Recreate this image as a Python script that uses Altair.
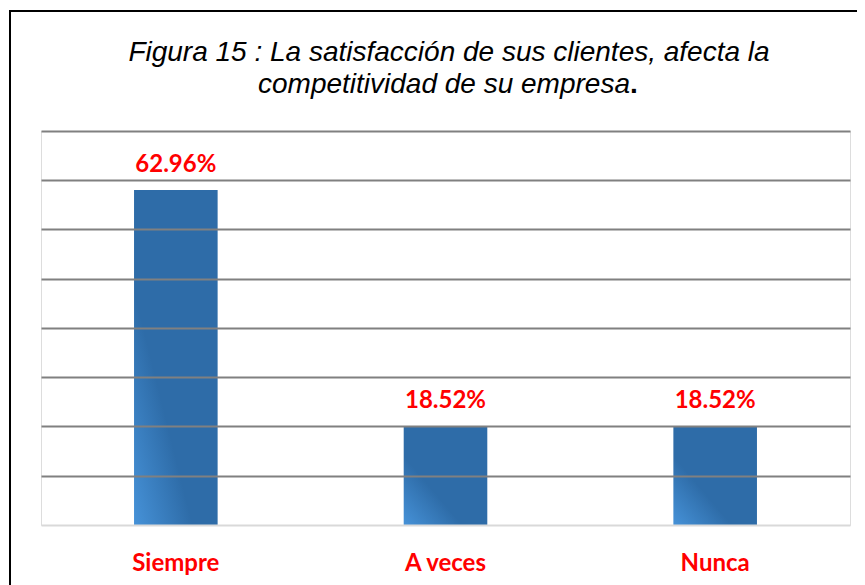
import altair as alt
import pandas as pd

categories = ["Siempre", "A veces", "Nunca"]
percentages = [62.96, 18.52, 18.52]
labels = ["62.96%", "18.52%", "18.52%"]
y_max = 74.07
grid_values = [9.26, 18.52, 27.78, 37.04, 46.30, 55.56, 64.81, 74.07]

title_line1 = "Figura 15 : La satisfacción de sus clientes, afecta la"
title_line2 = "competitividad de su empresa"
title_end = "."

df = pd.DataFrame({"cat": categories, "pct": percentages, "label": labels})
one = pd.DataFrame({"a": [0]})

x_enc = alt.X("cat:N", sort=categories,
              scale=alt.Scale(paddingInner=0.69, paddingOuter=0.345),
              axis=alt.Axis(title=None, labelAngle=0, labelFont="Lato", labelFontSize=24,
                            labelFontWeight="bold", labelColor="#FF0000", labelPadding=26,
                            ticks=False, domainColor="#D9D9D9", domainWidth=2, zindex=2))
y_enc = alt.Y("pct:Q", scale=alt.Scale(domain=[0, y_max], nice=False),
              axis=alt.Axis(title=None, labels=False, ticks=False, domain=False,
                            values=grid_values, gridColor="#808080", gridWidth=2,
                            gridOpacity=1, zindex=1))

grad = alt.Gradient(gradient="linear",
                    stops=[alt.GradientStop(color="#4692D8", offset=0),
                           alt.GradientStop(color="#2E6CA8", offset=1)],
                    x1=0, y1=1, x2=0.35, y2=0.65)

bars = alt.Chart(df).mark_bar(color=grad).encode(x=x_enc, y=y_enc)

text = alt.Chart(df).mark_text(font="Lato", fontSize=24, fontWeight="bold", color="#FF0000",
                               baseline="alphabetic", dy=-18).encode(
    x=alt.X("cat:N", sort=categories), y="pct:Q", text="label:N")

tfont = dict(font="Liberation Sans", fontStyle="italic", fontSize=28, color="#000000",
             baseline="alphabetic")
t1 = alt.Chart(one).mark_text(align="center", text=title_line1, **tfont).encode(
    x=alt.value(408), y=alt.value(-70))
t2 = alt.Chart(one).mark_text(align="right", text=title_line2, **tfont).encode(
    x=alt.value(589), y=alt.value(-38))
t3 = alt.Chart(one).mark_text(align="left", text=title_end, font="Liberation Sans",
                              fontWeight="bold", fontSize=28, color="#000000",
                              baseline="alphabetic").encode(
    x=alt.value(589), y=alt.value(-38))

frame = alt.Chart(one).mark_rect(fill=None, stroke="#000000", strokeWidth=2).encode(
    x=alt.value(-31), x2=alt.value(900), y=alt.value(-120), y2=alt.value(700))

chart = alt.layer(bars, text, t1, t2, t3, frame).properties(
    width=809, height=394,
    autosize=alt.AutoSizeParams(type="none"),
    padding={"left": 33, "top": 123, "right": 7, "bottom": 60},
).configure_view(stroke="#808080", strokeWidth=2).configure(background="#FFFFFF")

chart.save("out.html", embed_options={"renderer": "svg", "actions": False})
